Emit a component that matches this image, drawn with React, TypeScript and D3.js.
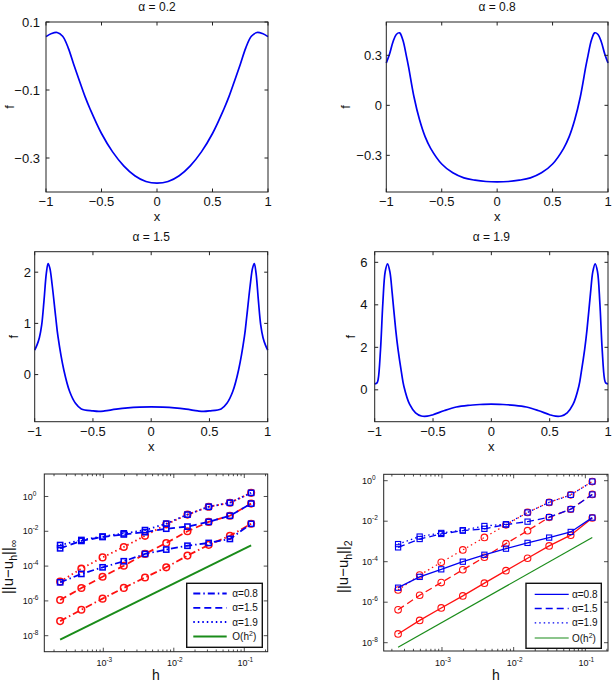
import React from "react";
import * as d3 from "d3";

// ---------- profile curves f(x) on [-1, 1] ----------
const profileX02 = [-1, -0.95, -0.9, -0.85, -0.8, -0.75, -0.7, -0.65, -0.6, -0.5, -0.4, -0.3, -0.2, -0.1, 0, 0.1, 0.2, 0.3, 0.4, 0.5, 0.6, 0.65, 0.7, 0.75, 0.8, 0.85, 0.9, 0.95, 1];
const profileF02 = [0.057, 0.066, 0.069, 0.058, 0.024, -0.025, -0.072, -0.118, -0.158, -0.228, -0.282, -0.323, -0.352, -0.369, -0.374, -0.369, -0.352, -0.323, -0.282, -0.228, -0.158, -0.118, -0.072, -0.025, 0.024, 0.058, 0.069, 0.066, 0.057];

const profileX08 = [-1, -0.97, -0.94, -0.91, -0.88, -0.85, -0.82, -0.8, -0.75, -0.7, -0.65, -0.6, -0.5, -0.4, -0.3, -0.2, -0.1, 0, 0.1, 0.2, 0.3, 0.4, 0.5, 0.6, 0.65, 0.7, 0.75, 0.8, 0.82, 0.85, 0.88, 0.91, 0.94, 0.97, 1];
const profileF08 = [0.254, 0.31, 0.38, 0.425, 0.435, 0.39, 0.3, 0.234, 0.05, -0.087, -0.188, -0.258, -0.352, -0.405, -0.435, -0.449, -0.457, -0.459, -0.457, -0.449, -0.435, -0.405, -0.352, -0.258, -0.188, -0.087, 0.05, 0.234, 0.3, 0.39, 0.435, 0.425, 0.38, 0.31, 0.254];

const profileX15 = [-1, -0.98, -0.96, -0.94, -0.92, -0.9, -0.885, -0.87, -0.85, -0.82, -0.8, -0.75, -0.7, -0.65, -0.6, -0.5, -0.45, -0.4, -0.3, -0.2, -0.1, 0, 0.1, 0.2, 0.3, 0.4, 0.45, 0.5, 0.6, 0.65, 0.7, 0.75, 0.8, 0.82, 0.85, 0.87, 0.885, 0.9, 0.92, 0.94, 0.96, 0.98, 1];
const profileF15 = [0.48, 0.58, 0.72, 0.97, 1.45, 1.98, 2.17, 2.08, 1.75, 1.13, 0.74, 0.09, -0.33, -0.56, -0.67, -0.71, -0.72, -0.71, -0.675, -0.65, -0.636, -0.63, -0.636, -0.65, -0.675, -0.71, -0.72, -0.71, -0.67, -0.56, -0.33, 0.09, 0.74, 1.13, 1.75, 2.08, 2.17, 1.98, 1.45, 0.97, 0.72, 0.58, 0.48];

const profileX19 = [-1, -0.98, -0.97, -0.95, -0.93, -0.91, -0.89, -0.87, -0.85, -0.82, -0.8, -0.77, -0.75, -0.7, -0.65, -0.6, -0.55, -0.5, -0.4, -0.3, -0.2, -0.1, 0, 0.1, 0.2, 0.3, 0.4, 0.5, 0.55, 0.6, 0.65, 0.7, 0.75, 0.77, 0.8, 0.82, 0.85, 0.87, 0.89, 0.91, 0.93, 0.95, 0.97, 0.98, 1];
const profileF19 = [0.28, 0.33, 0.5, 1.9, 4.1, 5.56, 5.93, 5.56, 4.55, 2.83, 1.9, 0.8, 0.17, -0.69, -1.08, -1.23, -1.24, -1.17, -0.97, -0.81, -0.73, -0.69, -0.67, -0.69, -0.73, -0.81, -0.97, -1.17, -1.24, -1.23, -1.08, -0.69, 0.17, 0.8, 1.9, 2.83, 4.55, 5.56, 5.93, 5.56, 4.1, 1.9, 0.5, 0.33, 0.28];

const profileXTicks = [-1, -0.5, 0, 0.5, 1];
const profileXTickLabels = ["\u22121", "\u22120.5", "0", "0.5", "1"];

// ---------- convergence data ----------
// mesh sizes h = 2^-12 ... 2^-3
const meshSizes = [0.000244140625, 0.00048828125, 0.0009765625, 0.001953125, 0.00390625, 0.0078125, 0.015625, 0.03125, 0.0625, 0.125];

// max-norm errors: squares (blue) and circles (red)
const infSquare08 = [1.17e-5, 3.55e-5, 8.5e-5, 1.9e-4, 5.0e-4, 8.9e-4, 1.48e-3, 2.14e-3, 3.63e-3, 2.7e-2];
const infCircle08 = [6.9e-8, 3.1e-7, 1.35e-6, 5.6e-6, 2.2e-5, 8.5e-5, 4.0e-4, 1.66e-3, 5.5e-3, 2.7e-2];
const infSquare15 = [1.05e-3, 2.8e-3, 4.7e-3, 6.6e-3, 8.9e-3, 1.41e-2, 1.86e-2, 3.47e-2, 7.8e-2, 0.39];
const infCircle15 = [1.12e-6, 5.5e-6, 2.45e-5, 1.05e-4, 5.0e-4, 2.14e-3, 1.0e-2, 3.47e-2, 7.8e-2, 0.39];
const infSquare19 = [1.62e-3, 3.16e-3, 5.0e-3, 7.6e-3, 1.17e-2, 2.75e-2, 9.1e-2, 0.257, 0.437, 1.62];
const infCircle19 = [1.29e-5, 7.1e-5, 3.16e-4, 1.26e-3, 5.5e-3, 2.5e-2, 9.1e-2, 0.257, 0.437, 1.62];

// L2-norm errors
const l2Square08 = [5.2e-6, 1.78e-5, 4.2e-5, 1.0e-4, 2.2e-4, 4.4e-4, 8.5e-4, 1.55e-3, 2.95e-3, 1.5e-2];
const l2Circle08 = [2.7e-8, 1.26e-7, 5.2e-7, 2.04e-6, 8.7e-6, 3.6e-5, 1.48e-4, 6.0e-4, 2.04e-3, 1.45e-2];
const l2Square15 = [5.1e-4, 1.32e-3, 2.34e-3, 3.4e-3, 4.2e-3, 6.8e-3, 9.5e-3, 1.58e-2, 3.9e-2, 0.209];
const l2Circle15 = [4.2e-7, 2.2e-6, 9.3e-6, 4.0e-5, 1.66e-4, 7.8e-4, 3.4e-3, 1.55e-2, 3.9e-2, 0.209];
const l2Square19 = [7.4e-4, 1.74e-3, 2.63e-3, 3.6e-3, 5.8e-3, 7.1e-3, 2.7e-2, 8.5e-2, 0.2, 0.91];
const l2Circle19 = [4.0e-6, 2.2e-5, 9.3e-5, 3.8e-4, 1.58e-3, 6.6e-3, 2.7e-2, 8.5e-2, 0.2, 0.91];

// reference slope line O(h^2) endpoints
const refH = [0.000244140625, 0.125];
const refErr = [6.0e-9, 1.56e-3];

const legendLabels = ["\u03b1=0.8", "\u03b1=1.5", "\u03b1=1.9"];
const logXTickExps = [-3, -2, -1];
const logYTickExps = [0, -2, -4, -6, -8];

// ---------- styling ----------
const W = 614;
const H = 683;
const FONT = "'Liberation Sans', Arial, Helvetica, sans-serif";
const BLUE = "#0000f2";
const RED = "#ff1010";
const GREEN = "#1a8c1a";
const AXIS = "#222";

const DASH_DOT = "7,3,1.5,3";
const DASHED = "7,4";
const DOTTED = "1.5,3";

type Box = { left: number; right: number; top: number; bottom: number };

function ProfilePanel(props: {
  box: Box;
  xs: number[];
  ys: number[];
  yDomain: [number, number];
  yTicks: number[];
  yTickLabels: string[];
  tickRight: number;
  fLabelX: number;
  title: string;
}) {
  const { box, xs, ys, yDomain, yTicks, yTickLabels, tickRight, fLabelX, title } = props;
  const x = d3.scaleLinear().domain([-1, 1]).range([box.left, box.right]);
  const y = d3.scaleLinear().domain(yDomain).range([box.bottom, box.top]);
  const line = d3
    .line<number>()
    .x((_, i) => x(xs[i]))
    .y((d) => y(d))
    .curve(d3.curveCatmullRom.alpha(0.5));
  const cx = (box.left + box.right) / 2;
  const cy = (box.top + box.bottom) / 2;
  const tl = 3.5;
  return (
    <g>
      <path d={line(ys) || ""} fill="none" stroke={BLUE} strokeWidth={1.7} />
      <rect x={box.left} y={box.top} width={box.right - box.left} height={box.bottom - box.top} fill="none" stroke={AXIS} strokeWidth={1} />
      {profileXTicks.map((t, i) => (
        <g key={"xt" + i}>
          <line x1={x(t)} x2={x(t)} y1={box.bottom} y2={box.bottom - tl} stroke={AXIS} />
          <line x1={x(t)} x2={x(t)} y1={box.top} y2={box.top + tl} stroke={AXIS} />
          <text x={x(t)} y={box.bottom + 14} fontSize={13} textAnchor="middle" fill="#111">
            {profileXTickLabels[i]}
          </text>
        </g>
      ))}
      {yTicks.map((t, i) => (
        <g key={"yt" + i}>
          <line x1={box.left} x2={box.left + tl} y1={y(t)} y2={y(t)} stroke={AXIS} />
          <line x1={box.right} x2={box.right - tl} y1={y(t)} y2={y(t)} stroke={AXIS} />
          <text x={tickRight} y={y(t) + 4.6} fontSize={13} textAnchor="end" fill="#111">
            {yTickLabels[i]}
          </text>
        </g>
      ))}
      <text x={cx} y={box.top - 11} fontSize={12} textAnchor="middle" fill="#111">
        {title}
      </text>
      <text x={cx} y={box.bottom + 29} fontSize={13} textAnchor="middle" fill="#111">
        x
      </text>
      <text transform={`translate(${fLabelX},${cy}) rotate(-90)`} fontSize={13} textAnchor="middle" dy="0.35em" fill="#111">
        f
      </text>
    </g>
  );
}

type Series = { values: number[]; color: string; dash: string | null; marker: "square" | "circle" };

function ConvergencePanel(props: {
  box: Box;
  xDomain: [number, number];
  yDomain: [number, number];
  series: Series[];
  lineWidth: number;
  refWidth: number;
  legendDashes: (string | null)[];
  legendBox: Box;
  legendRows: number[];
  legendLine: [number, number];
  legendTextX: number;
  yTickX: number;
  yLabelX: number;
  normSub: string;
}) {
  const p = props;
  const { box } = p;
  const x = d3.scaleLog().domain(p.xDomain).range([box.left, box.right]);
  const y = d3.scaleLog().domain(p.yDomain).range([box.bottom, box.top]);
  const line = d3
    .line<number>()
    .x((_, i) => x(meshSizes[i]))
    .y((d) => y(d));
  const refLine = d3
    .line<number>()
    .x((_, i) => x(refH[i]))
    .y((d) => y(d));

  // minor ticks between decades
  const minor: number[] = [];
  for (let e = -4; e <= -1; e++) {
    for (let m = 1; m <= 9; m++) {
      const v = m * Math.pow(10, e);
      if (v >= p.xDomain[0] && v <= p.xDomain[1]) minor.push(v);
    }
  }
  const cx = (box.left + box.right) / 2;
  const ms = 2.6;
  const mr = 3.3;

  const drawSeries = (s: Series, idx: number) => (
    <g key={"s" + idx}>
      <path d={line(s.values) || ""} fill="none" stroke={s.color} strokeWidth={p.lineWidth} strokeDasharray={s.dash || undefined} />
      {s.values.map((v, i) =>
        s.marker === "square" ? (
          <rect key={i} x={x(meshSizes[i]) - ms} y={y(v) - ms} width={ms * 2} height={ms * 2} fill="none" stroke={s.color} strokeWidth={p.lineWidth * 0.85} />
        ) : (
          <circle key={i} cx={x(meshSizes[i])} cy={y(v)} r={mr} fill="none" stroke={s.color} strokeWidth={p.lineWidth * 0.85} />
        )
      )}
    </g>
  );

  return (
    <g>
      {p.series.filter((s) => s.marker === "circle").map(drawSeries)}
      {p.series.filter((s) => s.marker === "square").map(drawSeries)}
      <path d={refLine(refErr) || ""} fill="none" stroke={GREEN} strokeWidth={p.refWidth} />
      <rect x={box.left} y={box.top} width={box.right - box.left} height={box.bottom - box.top} fill="none" stroke={AXIS} strokeWidth={1} />
      {minor.map((v, i) => {
        const major = Math.abs(Math.log10(v) - Math.round(Math.log10(v))) < 1e-9;
        const len = major ? 4 : 2.2;
        return (
          <g key={"mx" + i}>
            <line x1={x(v)} x2={x(v)} y1={box.bottom} y2={box.bottom - len} stroke={AXIS} strokeWidth={0.8} />
            <line x1={x(v)} x2={x(v)} y1={box.top} y2={box.top + len} stroke={AXIS} strokeWidth={0.8} />
          </g>
        );
      })}
      {logXTickExps.map((e) => (
        <text key={"xl" + e} x={x(Math.pow(10, e)) + 1} y={box.bottom + 14.5} fontSize={9} textAnchor="middle" fill="#111">
          10
          <tspan dy={-4} fontSize={6.5}>
            {"-" + Math.abs(e)}
          </tspan>
        </text>
      ))}
      {logYTickExps.map((e) => (
        <g key={"yl" + e}>
          <line x1={box.left} x2={box.left + 4} y1={y(Math.pow(10, e))} y2={y(Math.pow(10, e))} stroke={AXIS} strokeWidth={0.8} />
          <line x1={box.right} x2={box.right - 4} y1={y(Math.pow(10, e))} y2={y(Math.pow(10, e))} stroke={AXIS} strokeWidth={0.8} />
          <text x={p.yTickX} y={y(Math.pow(10, e)) + 3.2} fontSize={9} fill="#111">
            10
            <tspan dy={-4} fontSize={6.5}>
              {e === 0 ? "0" : "-" + Math.abs(e)}
            </tspan>
          </text>
        </g>
      ))}
      <text x={cx} y={box.bottom + 28.5} fontSize={14} textAnchor="middle" fill="#111">
        h
      </text>
      <text transform={`translate(${p.yLabelX},${(box.top + box.bottom) / 2 + 4}) rotate(-90)`} fontSize={15} textAnchor="middle" fill="#111">
        ||u{"\u2212"}u
        <tspan dy={4} fontSize={10.5}>
          h
        </tspan>
        <tspan dy={-4}>||</tspan>
        <tspan dy={4} fontSize={10.5}>
          {p.normSub}
        </tspan>
      </text>
      {/* legend */}
      <rect x={p.legendBox.left} y={p.legendBox.top} width={p.legendBox.right - p.legendBox.left} height={p.legendBox.bottom - p.legendBox.top} fill="#fff" stroke="#111" strokeWidth={1.4} />
      {p.legendRows.map((ry, i) => (
        <g key={"lg" + i}>
          <line
            x1={p.legendLine[0]}
            x2={p.legendLine[1]}
            y1={ry}
            y2={ry}
            stroke={i === 3 ? GREEN : BLUE}
            strokeWidth={i === 3 ? p.refWidth : p.lineWidth}
            strokeDasharray={i === 3 ? undefined : p.legendDashes[i] || undefined}
          />
          <text x={p.legendTextX} y={ry + 3.6} fontSize={10} fill="#111">
            {i < 3 ? (
              legendLabels[i]
            ) : (
              <>
                O(h
                <tspan dy={-4} fontSize={7}>
                  2
                </tspan>
                <tspan dy={4}>)</tspan>
              </>
            )}
          </text>
        </g>
      ))}
    </g>
  );
}

export default function App() {
  const infSeries: Series[] = [
    { values: infSquare08, color: BLUE, dash: DASH_DOT, marker: "square" },
    { values: infSquare15, color: BLUE, dash: DASHED, marker: "square" },
    { values: infSquare19, color: BLUE, dash: DOTTED, marker: "square" },
    { values: infCircle08, color: RED, dash: DASH_DOT, marker: "circle" },
    { values: infCircle15, color: RED, dash: DASHED, marker: "circle" },
    { values: infCircle19, color: RED, dash: DOTTED, marker: "circle" },
  ];
  const l2Series: Series[] = [
    { values: l2Square08, color: BLUE, dash: null, marker: "square" },
    { values: l2Square15, color: BLUE, dash: DASHED, marker: "square" },
    { values: l2Square19, color: BLUE, dash: DOTTED, marker: "square" },
    { values: l2Circle08, color: RED, dash: null, marker: "circle" },
    { values: l2Circle15, color: RED, dash: DASHED, marker: "circle" },
    { values: l2Circle19, color: RED, dash: DOTTED, marker: "circle" },
  ];

  return (
    <svg width={W} height={H} style={{ position: "absolute", left: 0, top: 0, display: "block" }} fontFamily={FONT}>
      <rect width={W} height={H} fill="#fff" />
      <ProfilePanel
        box={{ left: 46, right: 268, top: 22, bottom: 192 }}
        xs={profileX02}
        ys={profileF02}
        yDomain={[-0.4, 0.1]}
        yTicks={[0.1, -0.1, -0.3]}
        yTickLabels={["0.1", "\u22120.1", "\u22120.3"]}
        tickRight={40}
        fLabelX={9}
        title={"\u03b1 = 0.2"}
      />
      <ProfilePanel
        box={{ left: 386.3, right: 608, top: 22, bottom: 192 }}
        xs={profileX08}
        ys={profileF08}
        yDomain={[-0.52, 0.5]}
        yTicks={[0.3, 0, -0.3]}
        yTickLabels={["0.3", "0", "\u22120.3"]}
        tickRight={382}
        fLabelX={345.5}
        title={"\u03b1 = 0.8"}
      />
      <ProfilePanel
        box={{ left: 34.7, right: 267.7, top: 251.7, bottom: 421.7 }}
        xs={profileX15}
        ys={profileF15}
        yDomain={[-0.92, 2.4]}
        yTicks={[2, 1, 0]}
        yTickLabels={["2", "1", "0"]}
        tickRight={31}
        fLabelX={13.5}
        title={"\u03b1 = 1.5"}
      />
      <ProfilePanel
        box={{ left: 374.7, right: 608, top: 251.7, bottom: 421.7 }}
        xs={profileX19}
        ys={profileF19}
        yDomain={[-1.5, 6.5]}
        yTicks={[6, 4, 2, 0]}
        yTickLabels={["6", "4", "2", "0"]}
        tickRight={367.5}
        fLabelX={350.5}
        title={"\u03b1 = 1.9"}
      />
      <ConvergencePanel
        box={{ left: 44.3, right: 267.7, top: 474, bottom: 651.7 }}
        xDomain={[Math.pow(10, -3.837), Math.pow(10, -0.668)]}
        yDomain={[Math.pow(10, -8.92), Math.pow(10, 1.293)]}
        series={infSeries}
        lineWidth={1.8}
        refWidth={2}
        legendDashes={[DASH_DOT, DASHED, DOTTED]}
        legendBox={{ left: 186.7, right: 262.3, top: 583.3, bottom: 647.3 }}
        legendRows={[593.5, 607.8, 622, 636.5]}
        legendLine={[193.3, 226.7]}
        legendTextX={232.3}
        yTickX={22.7}
        yLabelX={13}
        normSub={"\u221e"}
      />
      <ConvergencePanel
        box={{ left: 383.7, right: 608, top: 474.3, bottom: 651 }}
        xDomain={[Math.pow(10, -3.813), Math.pow(10, -0.684)]}
        yDomain={[Math.pow(10, -8.41), Math.pow(10, 0.316)]}
        series={l2Series}
        lineWidth={1.3}
        refWidth={1.2}
        legendDashes={[null, DASHED, DOTTED]}
        legendBox={{ left: 526, right: 601.3, top: 583.3, bottom: 648.3 }}
        legendRows={[594.3, 608.5, 622.8, 638]}
        legendLine={[534.7, 568.7]}
        legendTextX={572}
        yTickX={362}
        yLabelX={348}
        normSub={"2"}
      />
    </svg>
  );
}
